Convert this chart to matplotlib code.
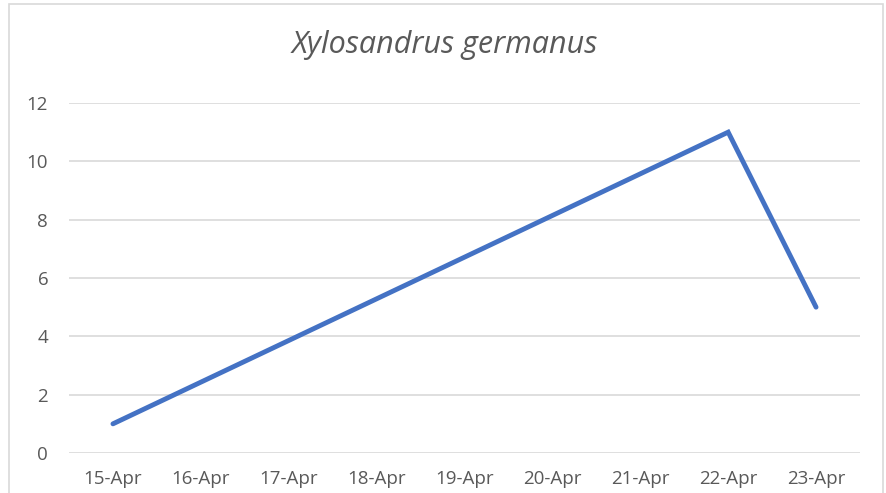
import pandas as pd
import matplotlib.pyplot as plt
import matplotlib.dates as mdates
from matplotlib.patches import Rectangle

dates = ["2023-04-15", "2023-04-22", "2023-04-23"]
counts = [1, 11, 5]
title = "Xylosandrus germanus"

plt.rcParams['font.family'] = ['Open Sans', 'DejaVu Sans']
grey = "#595959"

x = pd.to_datetime(dates)

fig = plt.figure(figsize=(8.87, 4.93), dpi=100)
ax = fig.add_axes([69/887, 1-453/493, (860-69)/887, (453-103)/493])

ax.plot(x, counts, color="#4472C4", lw=3.5, solid_capstyle="round", solid_joinstyle="miter")

days = pd.date_range("2023-04-15", "2023-04-23", freq="D")
ax.set_xlim(mdates.date2num(days[0]) - 0.5, mdates.date2num(days[-1]) + 0.5)
ax.set_xticks(days)
ax.xaxis.set_major_formatter(mdates.DateFormatter("%d-%b"))
ax.set_ylim(0, 12)
ax.set_yticks(range(0, 13, 2))

ax.grid(axis="y", color="#d9d9d9", lw=1.2)
ax.set_axisbelow(True)
for s in ax.spines.values():
    s.set_visible(False)
ax.tick_params(length=0, colors=grey, labelsize=13.5)
ax.tick_params(axis="x", pad=12)
ax.tick_params(axis="y", pad=15)
for lbl in ax.get_yticklabels():
    lbl.set_horizontalalignment("right")

fig.text(445/887, 1-45/493, title, style="italic", color=grey, fontsize=22,
         ha="center", va="center")

fig.patches.append(Rectangle((9/887, -0.1), (883-9)/887, 1.1-4/493, transform=fig.transFigure,
                             fill=False, edgecolor="#d9d9d9", lw=1.2))

fig.savefig("out.png", dpi=100)
